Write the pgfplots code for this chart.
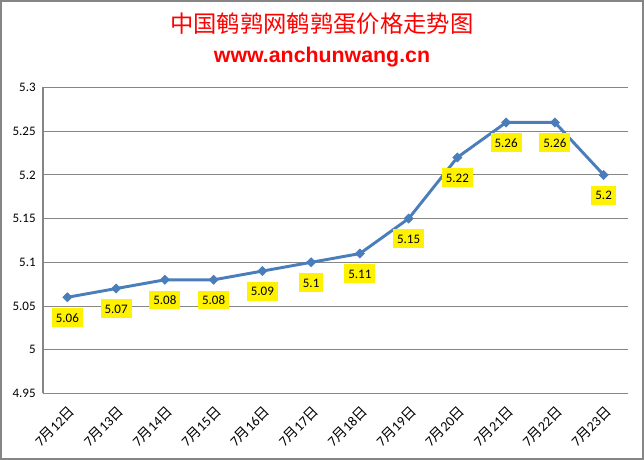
\documentclass[border=0pt]{standalone}
\usepackage{pgfplots}
\pgfplotsset{compat=1.18}
\usepackage{fontspec}
\setmainfont{Carlito}
\newfontfamily\cjk{Noto Sans CJK SC}
\newfontfamily\subfont{Liberation Sans}
\definecolor{lineblue}{HTML}{4A7EBB}
\definecolor{gridgray}{HTML}{868686}
\newcommand{\dd}[1]{7{\cjk 月}#1{\cjk 日}}
\begin{document}
\begin{tikzpicture}
\draw[gridgray, line width=1.2pt] (0.6pt,0.6pt) rectangle (482.4pt,344.4pt);
\node[text=red, font=\cjk\fontsize{17.5pt}{20pt}\selectfont] at (241.5pt,327pt) {中国鹌鹑网鹌鹑蛋价格走势图};
\node[text=red, font=\subfont\bfseries\fontsize{16pt}{18pt}\selectfont] at (241.5pt,302.25pt) {www.anchunwang.cn};
\begin{axis}[
  at={(32.25pt,49.9pt)}, anchor=south west,
  scale only axis, width=438.75pt, height=229.5pt,
  xmin=-0.5, xmax=11.5, ymin=4.95, ymax=5.3,
  axis line style={gridgray, line width=0.8pt},
  axis x line*=bottom, axis y line*=left,
  tick style={draw=none},
  major tick length=0pt,
  ymajorgrids, grid style={gridgray, line width=0.8pt},
  ytick={4.95,5,5.05,5.1,5.15,5.2,5.25,5.3},
  yticklabels={4.95,5,5.05,5.1,5.15,5.2,5.25,5.3},
  yticklabel style={font=\fontsize{9.75pt}{11pt}\selectfont, xshift=-2pt},
  xtick={0,...,11},
  xticklabels={\dd{12},\dd{13},\dd{14},\dd{15},\dd{16},\dd{17},\dd{18},\dd{19},\dd{20},\dd{21},\dd{22},\dd{23}},
  xticklabel style={font=\fontsize{10.5pt}{12pt}\selectfont, xshift=4.5pt, yshift=-11pt, rotate=45, anchor=east, inner sep=1pt},
  clip=false,
  nodes near coords,
  point meta=explicit symbolic,
  every node near coord/.append style={anchor=north, yshift=-7.8pt, fill=yellow, text=black,
     font=\fontsize{9.75pt}{11pt}\selectfont, inner xsep=3pt, minimum height=14.2pt, text height=7pt, text depth=0pt},
]
\addplot[color=lineblue, line width=2.2pt, mark=square*, mark size=2.4pt, mark options={rotate=45, fill=lineblue, draw=lineblue, line width=0.5pt}]
  table[x=x, y=y, meta=lab] {
x y lab
0 5.06 5.06
1 5.07 5.07
2 5.08 5.08
3 5.08 5.08
4 5.09 5.09
5 5.10 5.1
6 5.11 5.11
7 5.15 5.15
8 5.22 5.22
9 5.26 5.26
10 5.26 5.26
11 5.20 5.2
};
\end{axis}
\end{tikzpicture}
\end{document}
